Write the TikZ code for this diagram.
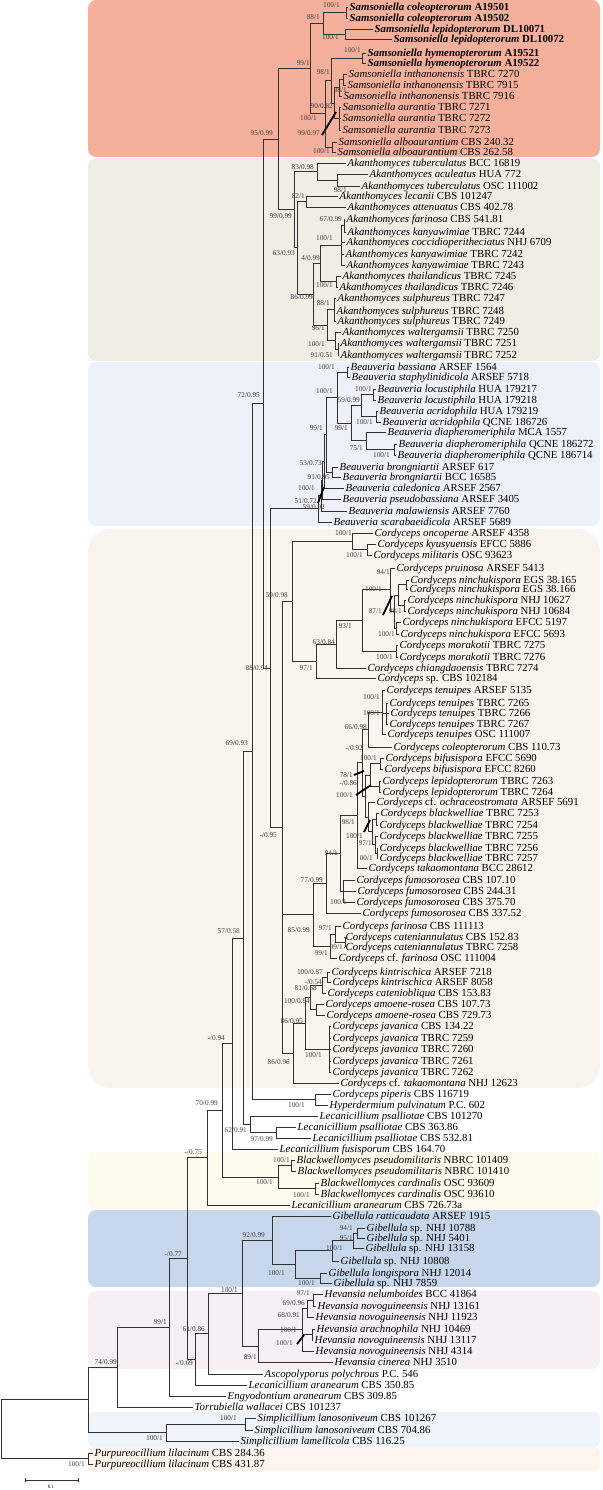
\documentclass[tikz,border=0pt]{standalone}
\usepackage{fontspec}
\setmainfont{Liberation Serif}
\usetikzlibrary{calc}
\definecolor{cSam}{RGB}{245,176,156}
\definecolor{cAka}{RGB}{239,238,229}
\definecolor{cBea}{RGB}{237,242,250}
\definecolor{cCor}{RGB}{250,244,239}
\definecolor{cBla}{RGB}{251,251,238}
\definecolor{cGib}{RGB}{200,216,236}
\definecolor{cHev}{RGB}{246,240,244}
\definecolor{cSim}{RGB}{238,244,250}
\definecolor{cPur}{RGB}{252,244,237}
\definecolor{brc}{RGB}{50,50,50}
\newcommand\tx[1]{\textit{#1}}
\newcommand\lf[4]{\coordinate (L#1) at (#2,#3);\node[leaflab] (T#1) at (L#1) {#4};}
\newcommand\nd[4]{\path let \p1=(#3), \p2=(#4) in coordinate (#1) at (#2pt,{0.5*((\y1)+(\y2))});%
\draw[br] (#1 |- #3) -- (#1 |- #4);\draw[br] (#1 |- #3) -- (#3);\draw[br] (#1 |- #4) -- (#4);}
\newcommand\hb[2]{\draw[br] (#1 |- #2) -- (#2);}
\newcounter{bsc}
\newcommand\bs[3]{\stepcounter{bsc}\node[bslab] (s\arabic{bsc}) at (#1,#2) {#3};}
\begin{document}
\begin{tikzpicture}[x=1pt,y=-1pt,
  br/.style={draw=brc,line width=0.75pt,line cap=rect},
  leaflab/.style={anchor=base west,inner sep=0pt,xshift=1.5pt,yshift=-3.6pt,font=\fontsize{10.8}{12}\selectfont},
  bslab/.style={anchor=base east,inner sep=0pt,yshift=-2.4pt,font=\fontsize{7.3}{8}\selectfont,text=black!75},
  lead/.style={line width=1.8pt,black}]
\useasboundingbox (0,0) rectangle (602,1490);
% backgrounds
\fill[cSam,rounded corners=8pt] (88,0) rectangle (600,157);
\fill[cAka,rounded corners=8pt] (88,158) rectangle (600,361);
\fill[cBea,rounded corners=8pt] (88,362) rectangle (600,526);
\fill[cCor,rounded corners=22pt] (88,529) rectangle (600,1088);
\fill[cBla,rounded corners=6pt] (88,1152) rectangle (600,1209);
\fill[cGib,rounded corners=8pt] (88,1210) rectangle (600,1287);
\fill[cHev,rounded corners=8pt] (88,1291) rectangle (600,1369);
\fill[cSim,rounded corners=6pt] (88,1412) rectangle (600,1447);
\fill[cPur,rounded corners=6pt] (88,1447) rectangle (600,1471);
% leaves
\lf{1}{348}{7}{\textbf{\tx{Samsoniella coleopterorum} A19501}}
\lf{2}{348}{18}{\textbf{\tx{Samsoniella coleopterorum} A19502}}
\lf{3}{373}{29}{\textbf{\tx{Samsoniella lepidopterorum} DL10071}}
\lf{4}{392}{39}{\textbf{\tx{Samsoniella lepidopterorum} DL10072}}
\lf{5}{366}{53}{\textbf{\tx{Samsoniella hymenopterorum} A19521}}
\lf{6}{366}{63}{\textbf{\tx{Samsoniella hymenopterorum} A19522}}
\lf{7}{347}{74}{\tx{Samsoniella inthanonensis} TBRC 7270}
\lf{8}{346}{85}{\tx{Samsoniella inthanonensis} TBRC 7915}
\lf{9}{342}{96}{\tx{Samsoniella inthanonensis} TBRC 7916}
\lf{10}{341}{107}{\tx{Samsoniella aurantia} TBRC 7271}
\lf{11}{341}{118}{\tx{Samsoniella aurantia} TBRC 7272}
\lf{12}{341}{130}{\tx{Samsoniella aurantia} TBRC 7273}
\lf{13}{337}{142}{\tx{Samsoniella alboaurantium} CBS 240.32}
\lf{14}{336}{152}{\tx{Samsoniella alboaurantium} CBS 262.58}
\lf{15}{346}{163}{\tx{Akanthomyces tuberculatus} BCC 16819}
\lf{16}{368}{174}{\tx{Akanthomyces aculeatus} HUA 772}
\lf{17}{360}{186}{\tx{Akanthomyces tuberculatus} OSC 111002}
\lf{18}{338}{196}{\tx{Akanthomyces lecanii} CBS 101247}
\lf{19}{346}{207}{\tx{Akanthomyces attenuatus} CBS 402.78}
\lf{20}{345}{219}{\tx{Akanthomyces farinosa} CBS 541.81}
\lf{21}{346}{232}{\tx{Akanthomyces kanyawimiae} TBRC 7244}
\lf{22}{345}{242}{\tx{Akanthomyces coccidioperitheciatus} NHJ 6709}
\lf{23}{344}{254}{\tx{Akanthomyces kanyawimiae} TBRC 7242}
\lf{24}{345}{265}{\tx{Akanthomyces kanyawimiae} TBRC 7243}
\lf{25}{341}{276}{\tx{Akanthomyces thailandicus} TBRC 7245}
\lf{26}{338}{287}{\tx{Akanthomyces thailandicus} TBRC 7246}
\lf{27}{336}{298}{\tx{Akanthomyces sulphureus} TBRC 7247}
\lf{28}{335}{311}{\tx{Akanthomyces sulphureus} TBRC 7248}
\lf{29}{336}{321}{\tx{Akanthomyces sulphureus} TBRC 7249}
\lf{30}{341}{332}{\tx{Akanthomyces waltergamsii} TBRC 7250}
\lf{31}{339}{343}{\tx{Akanthomyces waltergamsii} TBRC 7251}
\lf{32}{339}{355}{\tx{Akanthomyces waltergamsii} TBRC 7252}
\lf{33}{349}{367}{\tx{Beauveria bassiana} ARSEF 1564}
\lf{34}{350}{377}{\tx{Beauveria staphylinidicola} ARSEF 5718}
\lf{35}{376}{389}{\tx{Beauveria locustiphila} HUA 179217}
\lf{36}{376}{400}{\tx{Beauveria locustiphila} HUA 179218}
\lf{37}{378}{411}{\tx{Beauveria acridophila} HUA 179219}
\lf{38}{381}{422}{\tx{Beauveria acridophila} QCNE 186726}
\lf{39}{386}{432}{\tx{Beauveria diapheromeriphila} MCA 1557}
\lf{40}{397}{444}{\tx{Beauveria diapheromeriphila} QCNE 186272}
\lf{41}{396}{455}{\tx{Beauveria diapheromeriphila} QCNE 186714}
\lf{42}{338}{467}{\tx{Beauveria brongniartii} ARSEF 617}
\lf{43}{341}{477}{\tx{Beauveria brongniartii} BCC 16585}
\lf{44}{344}{488}{\tx{Beauveria caledonica} ARSEF 2567}
\lf{45}{341}{499}{\tx{Beauveria pseudobassiana} ARSEF 3405}
\lf{46}{347}{511}{\tx{Beauveria malawiensis} ARSEF 7760}
\lf{47}{332}{522}{\tx{Beauveria scarabaeidicola} ARSEF 5689}
\lf{48}{373}{533}{\tx{Cordyceps oncoperae} ARSEF 4358}
\lf{49}{376}{544}{\tx{Cordyceps kyusyuensis} EFCC 5886}
\lf{50}{372}{555}{\tx{Cordyceps militaris} OSC 93623}
\lf{51}{395}{568}{\tx{Cordyceps pruinosa} ARSEF 5413}
\lf{52}{409}{580}{\tx{Cordyceps ninchukispora} EGS 38.165}
\lf{53}{408}{589}{\tx{Cordyceps ninchukispora} EGS 38.166}
\lf{54}{406}{600}{\tx{Cordyceps ninchukispora} NHJ 10627}
\lf{55}{406}{611}{\tx{Cordyceps ninchukispora} NHJ 10684}
\lf{56}{401}{622}{\tx{Cordyceps ninchukispora} EFCC 5197}
\lf{57}{399}{634}{\tx{Cordyceps ninchukispora} EFCC 5693}
\lf{58}{398}{645}{\tx{Cordyceps morakotii} TBRC 7275}
\lf{59}{398}{657}{\tx{Cordyceps morakotii} TBRC 7276}
\lf{60}{366}{668}{\tx{Cordyceps chiangdaoensis} TBRC 7274}
\lf{61}{376}{678}{\tx{Cordyceps} sp. CBS 102184}
\lf{62}{385}{690}{\tx{Cordyceps tenuipes} ARSEF 5135}
\lf{63}{388}{703}{\tx{Cordyceps tenuipes} TBRC 7265}
\lf{64}{389}{713}{\tx{Cordyceps tenuipes} TBRC 7266}
\lf{65}{388}{724}{\tx{Cordyceps tenuipes} TBRC 7267}
\lf{66}{386}{734}{\tx{Cordyceps tenuipes} OSC 111007}
\lf{67}{392}{747}{\tx{Cordyceps coleopterorum} CBS 110.73}
\lf{68}{384}{758}{\tx{Cordyceps bifusispora} EFCC 5690}
\lf{69}{383}{769}{\tx{Cordyceps bifusispora} EFCC 8260}
\lf{70}{381}{781}{\tx{Cordyceps lepidopterorum} TBRC 7263}
\lf{71}{381}{792}{\tx{Cordyceps lepidopterorum} TBRC 7264}
\lf{72}{375}{802}{\tx{Cordyceps} cf. \tx{ochraceostromata} ARSEF 5691}
\lf{73}{379}{813}{\tx{Cordyceps blackwelliae} TBRC 7253}
\lf{74}{378}{825}{\tx{Cordyceps blackwelliae} TBRC 7254}
\lf{75}{378}{836}{\tx{Cordyceps blackwelliae} TBRC 7255}
\lf{76}{378}{848}{\tx{Cordyceps blackwelliae} TBRC 7256}
\lf{77}{378}{858}{\tx{Cordyceps blackwelliae} TBRC 7257}
\lf{78}{367}{868}{\tx{Cordyceps takaomontana} BCC 28612}
\lf{79}{355}{880}{\tx{Cordyceps fumosorosea} CBS 107.10}
\lf{80}{356}{891}{\tx{Cordyceps fumosorosea} CBS 244.31}
\lf{81}{355}{902}{\tx{Cordyceps fumosorosea} CBS 375.70}
\lf{82}{361}{913}{\tx{Cordyceps fumosorosea} CBS 337.52}
\lf{83}{341}{926}{\tx{Cordyceps farinosa} CBS 111113}
\lf{84}{344}{937}{\tx{Cordyceps cateniannulatus} CBS 152.83}
\lf{85}{344}{947}{\tx{Cordyceps cateniannulatus} TBRC 7258}
\lf{86}{337}{958}{\tx{Cordyceps} cf. \tx{farinosa} OSC 111004}
\lf{87}{330}{972}{\tx{Cordyceps kintrischica} ARSEF 7218}
\lf{88}{331}{982}{\tx{Cordyceps kintrischica} ARSEF 8058}
\lf{89}{326}{993}{\tx{Cordyceps cateniobliqua} CBS 153.83}
\lf{90}{324}{1004}{\tx{Cordyceps amoene-rosea} CBS 107.73}
\lf{91}{325}{1015}{\tx{Cordyceps amoene-rosea} CBS 729.73}
\lf{92}{331}{1026}{\tx{Cordyceps javanica} CBS 134.22}
\lf{93}{331}{1038}{\tx{Cordyceps javanica} TBRC 7259}
\lf{94}{331}{1049}{\tx{Cordyceps javanica} TBRC 7260}
\lf{95}{331}{1061}{\tx{Cordyceps javanica} TBRC 7261}
\lf{96}{331}{1072}{\tx{Cordyceps javanica} TBRC 7262}
\lf{97}{339}{1083}{\tx{Cordyceps} cf. \tx{takaomontana} NHJ 12623}
\lf{98}{331}{1094}{\tx{Cordyceps piperis} CBS 116719}
\lf{99}{328}{1105}{\tx{Hyperdermium pulvinatum} P.C. 602}
\lf{100}{318}{1116}{\tx{Lecanicillium psalliotae} CBS 101270}
\lf{101}{296}{1127}{\tx{Lecanicillium psalliotae} CBS 363.86}
\lf{102}{311}{1138}{\tx{Lecanicillium psalliotae} CBS 532.81}
\lf{103}{278}{1149}{\tx{Lecanicillium fusisporum} CBS 164.70}
\lf{104}{295}{1160}{\tx{Blackwellomyces pseudomilitaris} NBRC 101409}
\lf{105}{296}{1171}{\tx{Blackwellomyces pseudomilitaris} NBRC 101410}
\lf{106}{319}{1183}{\tx{Blackwellomyces cardinalis} OSC 93609}
\lf{107}{319}{1194}{\tx{Blackwellomyces cardinalis} OSC 93610}
\lf{108}{290}{1205}{\tx{Lecanicillium aranearum} CBS 726.73a}
\lf{109}{331}{1216}{\tx{Gibellula ratticaudata} ARSEF 1915}
\lf{110}{365}{1228}{\tx{Gibellula} sp. NHJ 10788}
\lf{111}{365}{1238}{\tx{Gibellula} sp. NHJ 5401}
\lf{112}{364}{1248}{\tx{Gibellula} sp. NHJ 13158}
\lf{113}{339}{1261}{\tx{Gibellula} sp. NHJ 10808}
\lf{114}{327}{1273}{\tx{Gibellula longispora} NHJ 12014}
\lf{115}{332}{1283}{\tx{Gibellula} sp. NHJ 7859}
\lf{116}{323}{1294}{\tx{Hevansia nelumboides} BCC 41864}
\lf{117}{316}{1306}{\tx{Hevansia novoguineensis} NHJ 13161}
\lf{118}{314}{1317}{\tx{Hevansia novoguineensis} NHJ 11923}
\lf{119}{315}{1329}{\tx{Hevansia arachnophila} NHJ 10469}
\lf{120}{313}{1340}{\tx{Hevansia novoguineensis} NHJ 13117}
\lf{121}{314}{1351}{\tx{Hevansia novoguineensis} NHJ 4314}
\lf{122}{333}{1362}{\tx{Hevansia cinerea} NHJ 3510}
\lf{123}{263}{1374}{\tx{Ascopolyporus polychrous} P.C. 546}
\lf{124}{247}{1385}{\tx{Lecanicillium aranearum} CBS 350.85}
\lf{125}{226}{1396}{\tx{Engyodontium aranearum} CBS 309.85}
\lf{126}{193}{1407}{\tx{Torrubiella wallacei} CBS 101237}
\lf{127}{256}{1418}{\tx{Simplicillium lanosoniveum} CBS 101267}
\lf{128}{253}{1430}{\tx{Simplicillium lanosoniveum} CBS 704.86}
\lf{129}{239}{1441}{\tx{Simplicillium lamellicola} CBS 116.25}
\lf{130}{93}{1453}{\tx{Purpureocillium lilacinum} CBS 284.36}
\lf{131}{93}{1464}{\tx{Purpureocillium lilacinum} CBS 431.87}
% Samsoniella
\nd{n1}{346}{L1}{L2}
\nd{n2}{345}{L3}{L4}
\nd{n3}{323}{n1}{n2}
\nd{n4}{362}{L5}{L6}
\nd{n5}{343}{L7}{L8}
\nd{n6}{339}{n5}{L9}
\nd{n7}{339}{L10}{L12}\hb{n7}{L11}
\nd{n8}{334}{n6}{n7}
\nd{n9}{331}{n4}{n8}
\nd{n10}{332}{L13}{L14}
\nd{n11}{325}{n9}{n10}
\nd{n12}{310}{n3}{n11}
% Akanthomyces
\nd{a2}{337}{L16}{L17}
\nd{a1}{317}{L15}{a2}
\nd{a3}{306}{L18}{L19}
\nd{a5}{344}{L20}{L21}
\nd{a6}{341}{a5}{L24}\hb{a6}{L22}\hb{a6}{L23}
\nd{a7}{336}{L25}{L26}
\nd{a8}{320}{a6}{a7}
\nd{a9}{334}{L27}{L29}\hb{a9}{L28}
\nd{a11}{338}{L31}{L32}
\nd{a10}{335}{L30}{a11}
\nd{asp}{327}{a9}{a10}
\nd{a12}{313}{a8}{asp}
\nd{a15}{297}{a3}{a12}
\nd{a14}{294}{a1}{a15}
\nd{n95}{278}{n12}{a14}
% Beauveria
\nd{b1}{347}{L33}{L34}
\nd{bl}{373}{L35}{L36}
\nd{ba}{376}{L37}{L38}
\nd{b2}{361}{bl}{ba}
\nd{bq}{394}{L40}{L41}
\nd{bd}{366}{L39}{bq}
\nd{b3}{351}{b2}{bd}
\nd{b4}{337}{b1}{b3}
\nd{bb}{332}{L42}{L43}
\nd{b5}{326}{b4}{bb}
\nd{b6}{324}{b5}{L44}
\nd{b7}{322}{b6}{L45}
\nd{b8}{321}{b7}{L46}
\nd{b9}{318}{b8}{L47}
% Cordyceps
\nd{ckm}{367}{L49}{L50}
\nd{con}{352}{L48}{ckm}
\nd{cegs}{406}{L52}{L53}
\nd{cnhj}{404}{L54}{L55}
\nd{cen}{398}{cegs}{cnhj}
\nd{cef}{396}{L56}{L57}
\nd{cen2}{394}{cen}{cef}
\nd{cpr}{390}{L51}{cen2}
\nd{cmo}{396}{L58}{L59}
\nd{c93}{362}{cpr}{cmo}
\nd{c63}{336}{c93}{L60}
\nd{c97}{316}{c63}{L61}
\nd{Na}{292}{con}{c97}
\nd{t1}{386}{L63}{L65}\hb{t1}{L64}
\nd{t2}{382}{L62}{L66}\hb{t2}{t1}
\nd{t66}{368}{t2}{L67}
\nd{tbif}{380}{L68}{L69}
\nd{tlep}{379}{L70}{L71}
\nd{tbl}{370}{tbif}{tlep}
\nd{bk1}{377}{L76}{L77}
\nd{bk2}{375}{L75}{bk1}
\nd{bk3}{376}{L73}{L74}
\nd{bk4}{372}{bk3}{bk2}
\nd{ocb}{368}{L72}{bk4}
\nd{leb}{365}{tbl}{ocb}
\nd{t92}{362}{t66}{leb}
\nd{tk}{357}{t92}{L78}
\nd{f1}{343}{L79}{L81}\hb{f1}{L80}
\nd{t94}{340}{tk}{f1}
\nd{t77}{326}{t94}{L82}
\nd{c1}{345}{L84}{L85}
\nd{c2}{335}{L83}{c1}
\nd{c3}{330}{c2}{L86}
\nd{t85}{313}{t77}{c3}
\nd{k1}{327}{L87}{L88}
\nd{k2}{322}{k1}{L89}
\nd{am}{316}{L90}{L91}
\nd{k3}{310}{k2}{am}
\nd{j1}{329}{L92}{L96}\hb{j1}{L93}\hb{j1}{L94}\hb{j1}{L95}
\nd{k86}{305}{k3}{j1}
\nd{k8696}{293}{k86}{L97}
\nd{Cc}{282}{Na}{k8696}\hb{Cc}{t85}
\nd{Z}{270}{b9}{Cc}
\nd{Q1}{263}{n95}{Z}
\nd{pp}{315}{L98}{L99}
\nd{V}{252}{Q1}{pp}
\nd{ps2}{276}{L101}{L102}
\nd{ps}{250}{L100}{ps2}
\nd{N57}{243}{V}{ps}
\nd{N94}{232}{N57}{L103}
\nd{bpm}{291}{L104}{L105}
\nd{bcd}{315}{L106}{L107}
\nd{blk}{278}{bpm}{bcd}
\nd{N70}{222}{N94}{blk}
\nd{N75}{207}{N70}{L108}
% Gibellula / Hevansia
\nd{gp}{357}{L110}{L111}
\nd{g3}{353}{gp}{L112}
\nd{g4}{332}{g3}{L113}
\nd{gl}{320}{L114}{L115}
\nd{g5}{295}{g4}{gl}
\nd{Gib}{272}{L109}{g5}
\nd{h1}{313}{L116}{L117}
\nd{h2}{307}{h1}{L118}
\nd{h3}{312}{L119}{L120}
\nd{hv}{302}{h2}{L121}\hb{hv}{h3}
\nd{Hev}{258}{hv}{L122}
\nd{H}{242}{Gib}{Hev}
\nd{F}{208}{H}{L123}
\nd{E}{195}{F}{L124}
\nd{D}{187}{N75}{E}
\nd{C}{169}{D}{L125}
\nd{B}{117}{C}{L126}
\nd{slan}{245}{L127}{L128}
\nd{Sim}{166}{slan}{L129}
\nd{A}{88}{B}{Sim}
\nd{P}{88}{L130}{L131}
\nd{R}{1}{A}{P}
% support labels
\bs{340}{5}{100/1}\bs{339}{37}{100/1}\bs{320}{17}{88/1}\bs{361}{50}{100/1}
\bs{310}{63}{99/1}\bs{330}{72}{98/1}\bs{347}{90}{98/1}\bs{333}{106}{90/0.82}
\bs{317}{118}{100/1}\bs{320}{133}{99/0.97}\bs{330}{151}{100/1}\bs{273}{133}{95/0.99}
\bs{314}{167}{83/0.98}\bs{347}{190}{98/1}\bs{305}{196}{82/1}\bs{292}{216}{99/0.99}
\bs{342}{219}{67/0.99}\bs{333}{238}{100/1}\bs{295}{253}{63/0.93}\bs{320}{258}{4/0.99}
\bs{333}{285}{100/1}\bs{313}{297}{86/0.99}\bs{330}{303}{88/1}\bs{325}{328}{96/1}
\bs{325}{344}{100/1}\bs{333}{355}{91/0.51}
\bs{335}{367}{100/1}\bs{260}{395}{72/0.95}\bs{372}{389}{100/1}\bs{333}{391}{100/1}
\bs{360}{400}{59/0.99}\bs{373}{422}{100/1}\bs{323}{428}{99/1}\bs{348}{428}{99/1}
\bs{363}{448}{75/1}\bs{390}{455}{100/1}\bs{322}{463}{53/0.73}\bs{330}{477}{91/0.95}
\bs{315}{488}{100/1}\bs{317}{501}{51/0.72}\bs{325}{507}{59/0.92}
\bs{352}{533}{100/1}\bs{363}{555}{100/1}\bs{390}{572}{94/1}\bs{382}{589}{100/1}
\bs{288}{595}{59/0.98}\bs{402}{611}{98/1}\bs{382}{611}{87/1}\bs{352}{626}{93/1}
\bs{395}{634}{100/1}\bs{335}{642}{63/0.84}\bs{393}{657}{100/1}\bs{268}{668}{88/0.94}
\bs{313}{668}{97/1}\bs{380}{697}{100/1}\bs{380}{713}{100/1}\bs{367}{727}{66/0.98}
\bs{248}{743}{69/0.93}\bs{363}{748}{-/0.92}\bs{377}{758}{100/1}\bs{353}{775}{78/1}
\bs{357}{783}{-/0.86}\bs{353}{795}{100/1}\bs{355}{822}{98/1}\bs{277}{835}{-/0.95}
\bs{363}{836}{100/1}\bs{372}{843}{97/1}\bs{338}{853}{94/1}\bs{373}{858}{00/1}
\bs{323}{880}{77/0.99}\bs{347}{902}{100/1}\bs{332}{928}{97/1}\bs{310}{930}{85/0.99}
\bs{240}{931}{57/0.58}\bs{343}{947}{99/1}\bs{328}{953}{99/1}\bs{323}{972}{100/0.87}
\bs{322}{982}{-/0.54}\bs{317}{988}{81/0.68}\bs{310}{1001}{100/0.94}\bs{303}{1021}{86/0.95}
\bs{225}{1038}{-/0.94}\bs{322}{1055}{100/1}\bs{290}{1062}{86/0.96}
\bs{218}{1103}{70/0.99}\bs{305}{1105}{100/1}\bs{247}{1130}{62/0.91}\bs{273}{1139}{97/0.99}
\bs{202}{1152}{-/0.75}\bs{290}{1160}{100/1}\bs{273}{1182}{100/1}\bs{310}{1195}{100/1}
\bs{353}{1228}{94/1}\bs{265}{1235}{92/0.99}\bs{353}{1238}{95/1}\bs{343}{1248}{100/1}
\bs{182}{1254}{-/0.77}\bs{285}{1273}{100/1}\bs{315}{1283}{100/1}\bs{238}{1290}{100/1}
\bs{310}{1293}{97/1}\bs{305}{1303}{69/0.96}\bs{300}{1315}{68/0.91}\bs{167}{1322}{99/1}
\bs{205}{1329}{61/0.86}\bs{297}{1330}{100/1}\bs{293}{1343}{100/1}\bs{257}{1357}{89/1}
\bs{117}{1362}{74/0.99}\bs{193}{1363}{-/0.69}\bs{237}{1418}{100/1}\bs{163}{1438}{100/1}
\bs{85}{1464}{100/1}
% thick leader marks
\coordinate (k1a) at (322,135);\coordinate (k1b) at (336,112);\draw[lead] (k1a) -- (k1b);
\coordinate (k2a) at (318,503);\coordinate (k2b) at (324,487);\draw[lead] (k2a) -- (k2b);
\coordinate (k3a) at (383,615);\coordinate (k3b) at (392,596);\draw[lead] (k3a) -- (k3b);
\coordinate (k4a) at (354,775);\coordinate (k4b) at (364,771);\draw[lead] (k4a) -- (k4b);
\coordinate (k5a) at (356,795);\coordinate (k5b) at (371,785);\draw[lead] (k5a) -- (k5b);
\coordinate (k6a) at (364,832);\coordinate (k6b) at (370,820);\draw[lead] (k6a) -- (k6b);
\coordinate (k7a) at (297,1344);\coordinate (k7b) at (304,1335);\draw[lead] (k7a) -- (k7b);
% scale bar
\coordinate (sb1) at (25,1480);\coordinate (sb2) at (78,1480);
\draw[br] (sb1) -- (sb2);
\draw[br] (sb1) ++(0,-2) -- ++(0,4);\draw[br] (sb2) ++(0,-2) -- ++(0,4);
\node[font=\fontsize{5}{6}\selectfont] (sbl) at (51,1487) {0.1};
\end{tikzpicture}
\end{document}
